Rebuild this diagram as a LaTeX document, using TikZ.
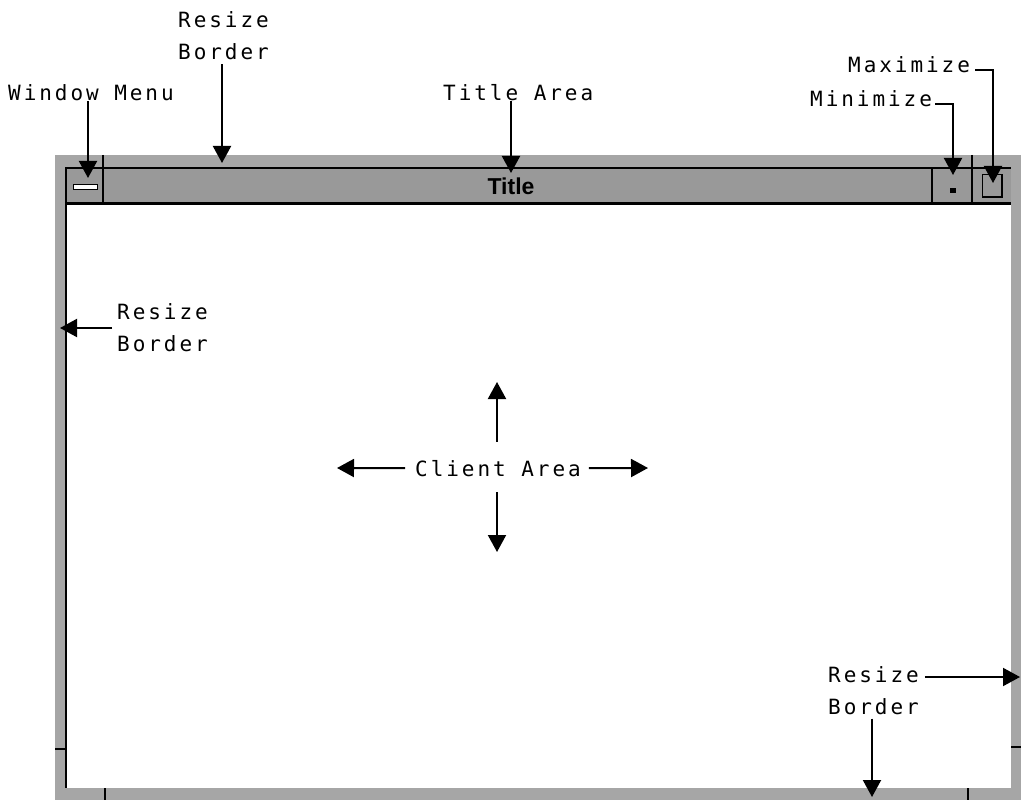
\documentclass[tikz,border=0pt]{standalone}
\usepackage{fontspec}
\usetikzlibrary{arrows.meta}
\setsansfont{Liberation Sans}
\newfontfamily\labfont[LetterSpace=14]{DejaVu Sans Mono}
\begin{document}
\begin{tikzpicture}[x=1pt,y=-1pt,
  lab/.style={font=\labfont\fontsize{21}{32}\selectfont, inner sep=0pt, anchor=base west, align=left},
  arr/.style={line width=2pt, -{Triangle[width=18pt,length=17pt]}},
  border/.style={fill=black!35},
  bar/.style={fill=black!40},
  edge/.style={line width=2.5pt},
  tick/.style={line width=1.5pt},
]
\path[use as bounding box] (0,0) rectangle (1023,802);
% window frame
\fill[border] (55,155) rectangle (1021,800);
\fill[white] (67,205) rectangle (1011,788);
\fill[bar] (65,168) rectangle (1011,204);
\draw[tick] (65,168) -- (1011,168);
\draw[line width=3pt] (65,204) -- (1011,204);
\draw[edge] (66,168) -- (66,788);
% title bar separators
\draw[edge] (103,168) -- (103,204);
\draw[edge] (932,168) -- (932,204);
\draw[edge] (972,168) -- (972,204);
% corner ticks of resize border
\draw[tick] (103,155) -- (103,168);
\draw[tick] (972,155) -- (972,168);
\draw[tick] (55,749) -- (66,749);
\draw[tick] (105,788) -- (105,800);
\draw[tick] (968,788) -- (968,800);
\draw[tick] (1011,747) -- (1021,747);
% buttons
\draw[fill=white, line width=1pt] (73,185) rectangle (97,190);
\fill[black] (950,188) rectangle (956,193);
\draw[line width=1pt] (982,175) rectangle (1002,198);
\draw[line width=2pt] (982,197) -- (1002,197) -- (1002,175);
\node[font=\sffamily\bfseries\fontsize{23}{23}\selectfont, inner sep=0pt] (title) at (511,186) {Title};

% labels
\node[lab] (wm) at (8,101) {Window Menu};
\node[lab] (rbT) at (178,60) {Resize\\Border};
\node[lab] (ta) at (443,101) {Title Area};
\node[lab] (mx) at (848,73) {Maximize};
\node[lab] (mn) at (810,107) {Minimize};
\node[lab] (rbL) at (117,352) {Resize\\Border};
\node[lab] (ca) at (415,476) {Client Area};
\node[lab] (rbB) at (828,714) {Resize\\Border};

% arrow end points
\coordinate (wmTip) at (88,178);
\coordinate (rbTTip) at (222,163);
\coordinate (taTip) at (511,173);
\coordinate (mxTip) at (993,183);
\coordinate (mnTip) at (953,175);
\coordinate (rbLTip) at (60,328);
\coordinate (caL) at (337,468);
\coordinate (caR) at (648,468);
\coordinate (caU) at (497,382);
\coordinate (caD) at (497,552);
\coordinate (rbBR) at (1020,677);
\coordinate (rbBD) at (872,797);

% connectors
\draw[arr] (wm.south -| wmTip) -- (wmTip);
\draw[arr] ([yshift=-4pt]rbT.south -| rbTTip) -- (rbTTip);
\draw[arr] (ta.south -| taTip) -- (taTip);
\draw[arr] ([xshift=5pt,yshift=3pt]mx.base east) -| (mxTip);
\draw[arr] ([xshift=3pt,yshift=3pt]mn.base east) -| (mnTip);
\draw[arr] ([xshift=-5pt]rbL.west |- rbLTip) -- (rbLTip);
\draw[arr] ([xshift=-10pt]ca.west) -- (caL);
\draw[arr] ([xshift=8pt]ca.east) -- (caR);
\draw[arr] ([yshift=18pt]ca.north -| caU) -- (caU);
\draw[arr] ([yshift=-16pt]ca.south -| caD) -- (caD);
\draw[arr] ([xshift=6pt]rbB.east |- rbBR) -- (rbBR);
\draw[arr] ([yshift=-4pt]rbB.south -| rbBD) -- (rbBD);
\end{tikzpicture}
\end{document}
